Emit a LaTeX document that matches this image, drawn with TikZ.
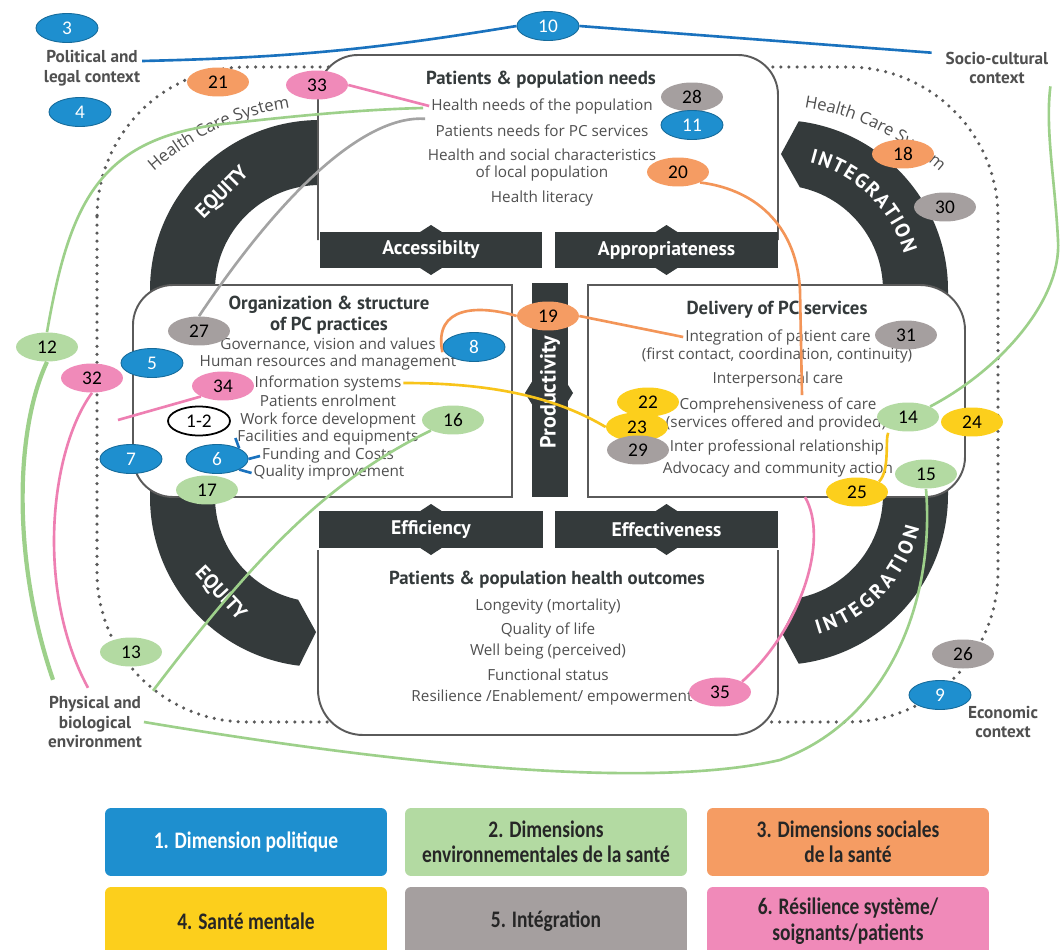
\documentclass[tikz,border=0pt]{standalone}
\usepackage{fontspec}
\setmainfont{Open Sans}
\newfontfamily\tfont{PT Sans}
\newfontfamily\nfont{Carlito}
\newfontfamily\lfont{Carlito}[FakeStretch=0.82]
\usepackage{tikz}
\usetikzlibrary{shapes,positioning,calc,decorations.text}

\definecolor{cblue}{HTML}{1E8FCF}
\definecolor{cgreen}{HTML}{B3DAA2}
\definecolor{corange}{HTML}{F59C63}
\definecolor{cyellow}{HTML}{FCCF1C}
\definecolor{cgray}{HTML}{A59F9F}
\definecolor{cpink}{HTML}{F08AB9}
\definecolor{cbar}{HTML}{343A3B}
\definecolor{ctext}{HTML}{505050}
\definecolor{cline}{HTML}{5A5A5A}
\definecolor{lblue}{HTML}{1A72BE}
\definecolor{lgreen}{HTML}{9DD08A}
\definecolor{lorange}{HTML}{F39558}
\definecolor{lyellow}{HTML}{F8C41A}
\definecolor{lgray}{HTML}{A3A3A3}
\definecolor{lpink}{HTML}{EE7FB2}

\begin{document}
\begin{tikzpicture}[x=0.02cm,y=-0.02cm,
    num/.style={ellipse,minimum width=1.24cm,minimum height=0.58cm,inner sep=0pt,
      font=\nfont\fontsize{11}{11}\selectfont},
    pol/.style={num,fill=cblue,draw=cblue!75!black,line width=0.5pt,text=white},
    env/.style={num,fill=cgreen},
    soc/.style={num,fill=corange},
    ment/.style={num,fill=cyellow},
    integ/.style={num,fill=cgray},
    resil/.style={num,fill=cpink},
    item/.style={text=ctext,font=\fontsize{8.7}{10}\selectfont,align=center,inner sep=1pt},
    head/.style={text=cbar,font=\tfont\bfseries\fontsize{10.7}{12}\selectfont,align=center,inner sep=1pt},
    ctx/.style={text=ctext,font=\tfont\bfseries\fontsize{9.8}{11.3}\selectfont,align=center,inner sep=1pt},
    bartext/.style={text=white,font=\tfont\bfseries\fontsize{11.2}{12}\selectfont},
    ringtext/.style={text=white,font=\tfont\bfseries\fontsize{11.5}{12}\selectfont},
    box/.style={draw=cline,line width=1.1pt,fill=white},
    bar/.style={fill=cbar},
    hcs/.style={draw=cline,line width=2pt,line cap=round,dash pattern=on 0pt off 4.6pt},
    link/.style={line width=1.5pt},
    legend/.style={rounded corners=0.12cm,minimum width=5.64cm,minimum height=1.36cm,
      align=center,text=black!85,font=\lfont\bfseries\fontsize{13.5}{14.5}\selectfont}
  ]
\path[use as bounding box,fill=white] (0,0) rectangle (1063,950);

% health care system
\draw[hcs,rounded corners=3cm] (97,67) rectangle (998,722);
\path[decorate,decoration={text along path,text align=center,
    text={|\fontsize{9.5}{10}\selectfont\color{ctext}|Health Care System}}]
  (328,367) ++(-141:262) arc[start angle=-141,end angle=-89,radius=262];
\path[decorate,decoration={text along path,text align=center,
    text={|\fontsize{9.5}{10}\selectfont\color{ctext}|Health Care System}}]
  (764,366) ++(-90:262) arc[start angle=-90,end angle=-39,radius=262];

% rings
\fill[bar] (320,120) arc[start angle=-90,end angle=-180,radius=170]
  -- (150,497) arc[start angle=180,end angle=97,radius=170]
  -- (316,632) -- ($(320,497)+(102:105)$) arc[start angle=102,end angle=180,radius=105]
  -- (215,290) arc[start angle=180,end angle=270,radius=105] -- cycle;
\fill[bar] (778,290) ++(-83:170) arc[start angle=-83,end angle=0,radius=170]
  -- (948,495) arc[start angle=0,end angle=83,radius=170]
  -- (782,633) -- ($(778,495)+(78:105)$) arc[start angle=78,end angle=0,radius=105]
  -- (883,290) arc[start angle=0,end angle=-78,radius=105]
  -- (781,154) -- cycle;
\node[ringtext,rotate=45] (eq1) at (223,193) {EQUITY};
\node[ringtext,rotate=-47] (eq2) at (220,594) {EQUITY};
\path[decorate,decoration={text along path,text align=fit to path,
    text={|\tfont\bfseries\fontsize{11.5}{12}\selectfont\color{white}|INTEGRATION}}]
  (778,290) ++(-76:131) arc[start angle=-76,end angle=-16,radius=131];
\path[decorate,decoration={text along path,text align=fit to path,
    text={|\tfont\bfseries\fontsize{11.5}{12}\selectfont\color{white}|INTEGRATION}}]
  (778,495) ++(74:145) arc[start angle=74,end angle=13,radius=145];

% boxes
\draw[box] (318,240) -- (318,95) arc[start angle=180,end angle=270,radius=40]
  -- (738,55) arc[start angle=-90,end angle=0,radius=40] -- (778,240);
\draw[box] (512,285) -- (173,285) arc[start angle=-90,end angle=-180,radius=40]
  -- (133,457) arc[start angle=180,end angle=90,radius=40] -- (512,497) -- cycle;
\draw[box] (588,285) -- (920,285) arc[start angle=-90,end angle=0,radius=45]
  -- (965,457) arc[start angle=0,end angle=90,radius=40] -- (588,497) -- cycle;
\draw[box] (318,550) -- (318,690) arc[start angle=180,end angle=90,radius=45]
  -- (733,735) arc[start angle=90,end angle=0,radius=45] -- (778,550);

% bars
\foreach \xa/\xb/\ya/\yb/\lab in {320/542/232/268/Accessibilty, 555/778/232/268/Appropriateness,
    319/543/511/548/Efficiency, 555/778/511/548/Effectiveness}{
  \fill[bar] (\xa,\ya) rectangle (\xb,\yb);
  \fill[bar] ({(\xa+\xb)/2},\ya-7) -- ({(\xa+\xb)/2+39},{(\ya+\yb)/2})
    -- ({(\xa+\xb)/2},\yb+7) -- ({(\xa+\xb)/2-39},{(\ya+\yb)/2}) -- cycle;
  \node[bartext] (\lab) at ({(\xa+\xb)/2},{(\ya+\yb)/2}) {\lab};
}
\fill[bar] (532,283) rectangle (568,497);
\fill[bar] (525,393) -- (549,354) -- (573,393) -- (549,432) -- cycle;
\node[bartext,rotate=90,font=\tfont\bfseries\fontsize{12.5}{13}\selectfont] (prod) at (550,392) {Productivity};

% top box
\node[head] (pneeds) at (541,80) {Patients \& population needs};
\node[item] (hneeds) at (542,106) {Health needs of the population};
\node[item] (pcneeds) at (542,131) {Patients needs for PC services};
\node[item] (hsoc) at (542,165) {Health and social characteristics\\of local population};
\node[item] (hlit) at (542,199) {Health literacy};

% left box
\node[head] (orghead) at (329,315) {Organization \& structure\\of PC practices};
\node[item] (gov) at (328,345) {Governance, vision and values};
\node[item] (hr) at (328,363) {Human resources and management};
\node[item] (info) at (328,383) {Information systems};
\node[item] (enrol) at (328,401) {Patients enrolment};
\node[item] (wfd) at (328,420) {Work force development};
\node[item] (fac) at (328,438) {Facilities and equipments};
\node[item] (fund) at (328,456) {Funding and Costs};
\node[item] (qual) at (329,473) {Quality improvement};

% right box
\node[head] (delhead) at (777,310) {Delivery of PC services};
\node[item] (intcare) at (778,337) {Integration of patient care};
\node[item] (intsub) at (777,355) {(first contact, coordination, continuity)};
\node[item] (interp) at (778,380) {Interpersonal care};
\node[item] (comp) at (778,405) {Comprehensiveness of care};
\node[item] (prov) at (776,423) {(services offered and provided)};
\node[item] (interprof) at (777,447) {Inter professional relationship};
\node[item] (advoc) at (778,470) {Advocacy and community action};

% bottom box
\node[head] (outhead) at (547,580) {Patients \& population health outcomes};
\node[item] (longev) at (548,607) {Longevity (mortality)};
\node[item] (qol) at (548,630) {Quality of life};
\node[item] (wellb) at (548,652) {Well being (perceived)};
\node[item] (funcst) at (548,675) {Functional status};
\node[item] (resil) at (552,698) {Resilience /Enablement/ empowerment};

% contexts
\node[ctx] (polctx) at (92,68) {Political and\\legal context};
\node[ctx] (socctx) at (997,68) {Socio-cultural\\context};
\node[ctx] (physctx) at (95,722) {Physical and\\biological\\environment};
\node[ctx] (econctx) at (1003,722) {Economic\\context};

% numbered dimensions
\node[pol] (n3) at (67,28) {3};
\node[pol] (n4) at (80,112) {4};
\node[pol] (n10) at (548,26) {10};
\node[soc] (n21) at (218,82) {21};
\node[resil] (n33) at (317,85) {33};
\node[integ] (n28) at (692,97) {28};
\node[pol] (n11) at (692,125) {11};
\node[soc] (n20) at (678,172) {20};
\node[soc] (n18) at (903,154) {18};
\node[integ] (n30) at (945,207) {30};
\node[env] (n12) at (47,347) {12};
\node[resil] (n32) at (92,378) {32};
\node[integ] (n27) at (199,331) {27};
\node[pol] (n5) at (152,363) {5};
\node[resil] (n34) at (223,386) {34};
\node[pol] (n8) at (474,347) {8};
\node[soc] (n19) at (548,316) {19};
\node[num,fill=white,draw=black,line width=1pt] (n1to2) at (199,421) {1-2};
\node[env] (n16) at (453,420) {16};
\node[pol] (n7) at (131,459) {7};
\node[pol] (n6) at (217,459) {6};
\node[env] (n17) at (207,490) {17};
\node[integ] (n31) at (906,335) {31};
\node[ment] (n22) at (648,402) {22};
\node[ment] (n23) at (637,427) {23};
\node[integ] (n29) at (638,450) {29};
\node[env] (n14) at (908,417) {14};
\node[ment] (n24) at (972,422) {24};
\node[env] (n15) at (926,474) {15};
\node[ment] (n25) at (857,492) {25};
\node[env] (n13) at (131,652) {13};
\node[resil] (n35) at (720,692) {35};
\node[integ] (n26) at (963,654) {26};
\node[pol] (n9) at (940,695) {9};

% links
\coordinate (e34) at (118,420);
\coordinate (e35) at (805,497);
\draw[link,lblue] ($(polctx.east)+(0,-7)$) to[bend right=4] (n10.west);
\draw[link,lblue] (n10.east) -- ($(socctx.north west)+(-12,3)$);
\draw[link,lpink] (n33.east) -- (hneeds.west);
\draw[link,lgreen] (n12.north) .. controls (70,200) and (100,135) .. (233,123)
  .. controls (320,113) and (380,109) .. ($(hneeds.west)+(-6,2)$);
\draw[link,lgreen,line width=2.4pt] (n12.south) .. controls (15,430) and (12,560)
  .. ($(physctx.north)+(-42,-14)$);
\draw[link,lpink] (n32.south) .. controls (50,450) and (35,590) .. ($(physctx.north)+(-7,-6)$);
\draw[link,lpink] (n34.south west) -- (e34);
\draw[link,lgray] (n27.north) .. controls (290,180) and (370,115) .. ($(hneeds.south west)+(-4,3)$);
\draw[link,lorange] (n20.south east) .. controls (760,190) and (797,230) .. (800,290)
  -- ($(comp.north)+(24,0)$);
\draw[link,lorange] ($(hr.north east)+(-16,-1)$) .. controls (433,305) and (480,305) .. (n19.west);
\draw[link,lorange] (n19.east) -- (intcare.west);
\draw[link,lyellow] (info.east) .. controls (500,383) and (560,400) .. (n23.west);
\draw[link,lyellow] (prov.south east) .. controls (885,440) and (890,470) .. (n25.north east);
\draw[link,lpink] (n35.north east) .. controls (800,630) and (830,540) .. (e35);
\draw[link,lgreen] (n14.north east) .. controls (1000,370) and (1062,300) .. (1058,240)
  .. controls (1055,180) and (1045,130) .. (socctx.south east);
\draw[link,lgreen] (n15.south) .. controls (935,600) and (890,720) .. (780,760)
  .. controls (650,790) and (400,765) .. (physctx.east);
\draw[link,lgreen] (n16.south west) .. controls (330,480) and (260,550) .. ($(physctx.north)+(58,-3)$);
\draw[link,lblue] (n6.north east) -- (fac.west);
\draw[link,lblue] (n6.east) -- (fund.west);
\draw[link,lblue] (n6.south east) -- (qual.west);

% legend
\node[legend,fill=cblue,text=white] (lg1) at (246,842) {1. Dimension politique};
\node[legend,fill=cgreen] (lg2) at (546,842) {2. Dimensions\\environnementales de la santé};
\node[legend,fill=corange] (lg3) at (848,842) {3. Dimensions sociales\\de la santé};
\node[legend,fill=cyellow] (lg4) at (246,921) {4. Santé mentale};
\node[legend,fill=cgray] (lg5) at (546,921) {5. Intégration};
\node[legend,fill=cpink] (lg6) at (848,921) {6. Résilience système/\\soignants/patients};
\end{tikzpicture}
\end{document}
